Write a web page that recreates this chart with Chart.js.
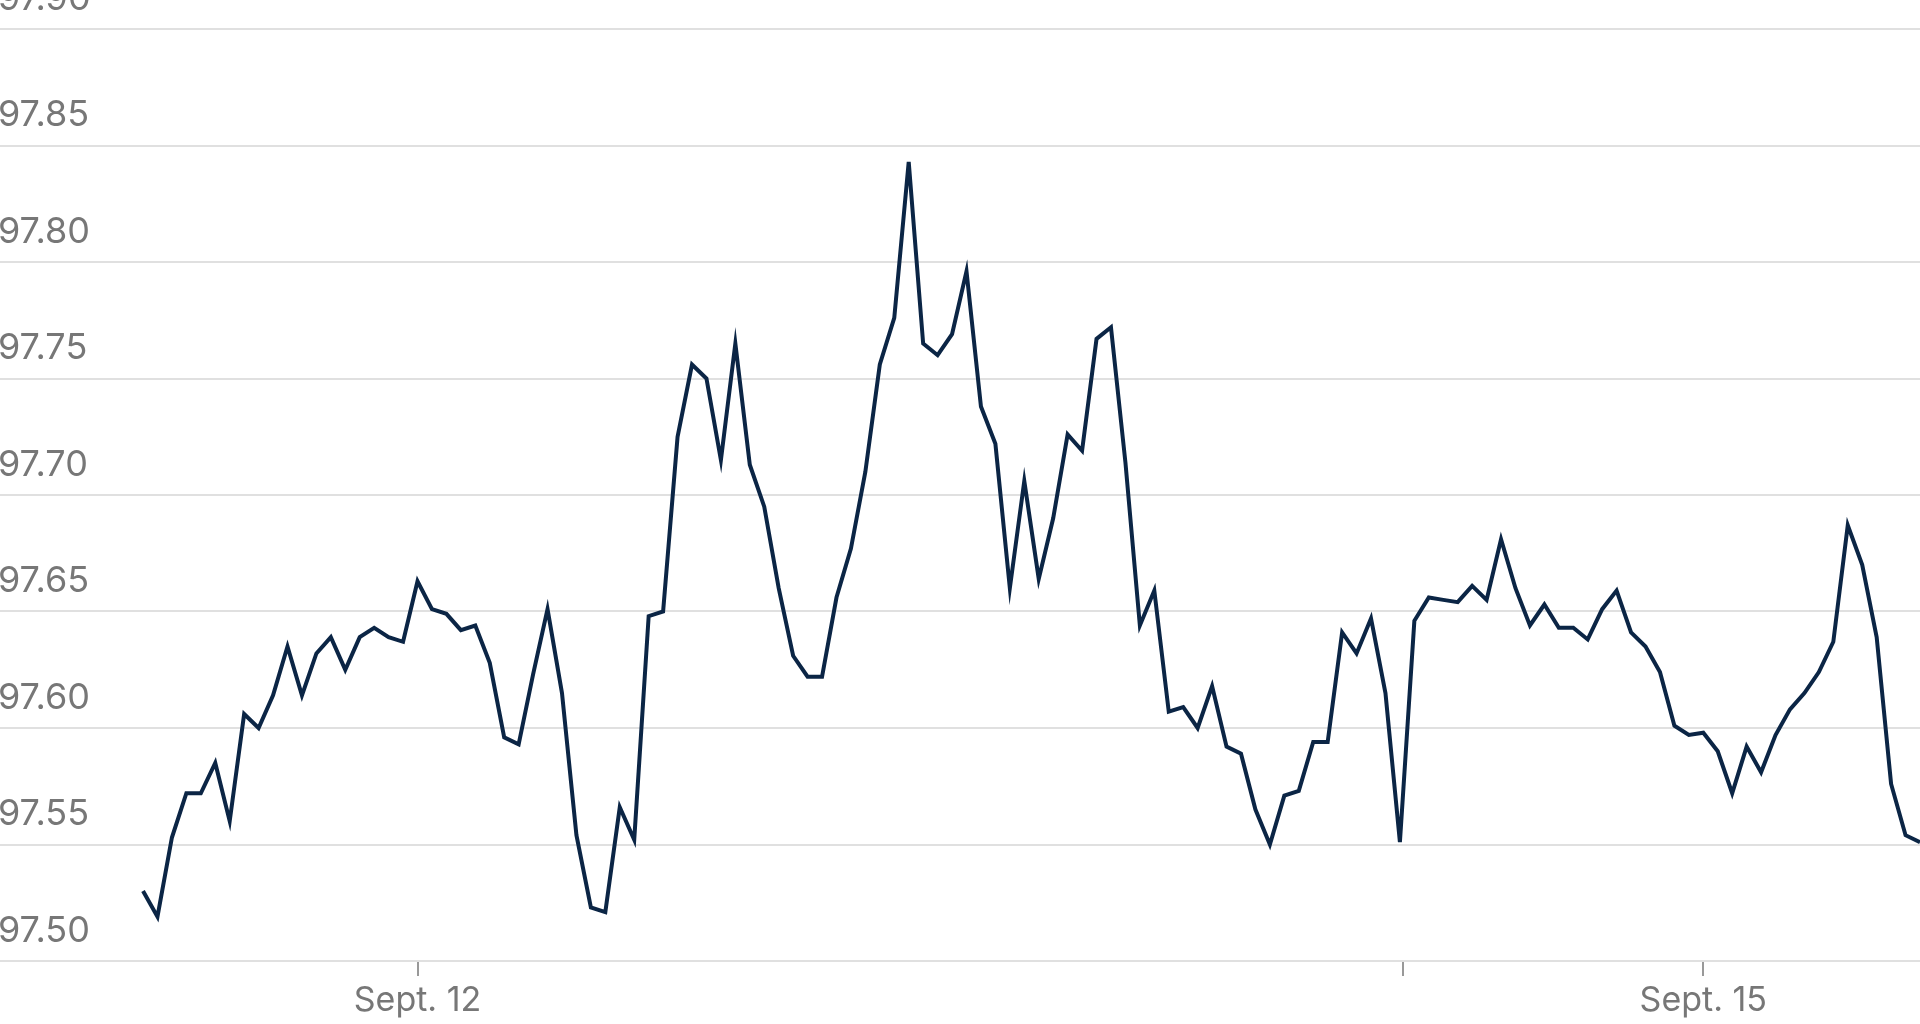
<!DOCTYPE html>
<html><head><meta charset="utf-8">
<script src="https://cdn.jsdelivr.net/npm/chart.js@4"></script>
<style>html,body{margin:0;padding:0;background:#fff;overflow:hidden}#w{width:1920px;height:1024px}</style>
</head><body><div id="w"><canvas id="c"></canvas></div>
<script>
const values=[97.530,97.519,97.553,97.572,97.572,97.585,97.560,97.606,97.600,97.614,97.635,97.614,97.632,97.639,97.625,97.639,97.643,97.639,97.637,97.663,97.651,97.649,97.642,97.644,97.628,97.596,97.593,97.623,97.651,97.615,97.554,97.523,97.521,97.566,97.552,97.648,97.650,97.725,97.756,97.750,97.715,97.765,97.713,97.695,97.660,97.631,97.622,97.622,97.656,97.677,97.710,97.756,97.776,97.843,97.765,97.760,97.769,97.796,97.738,97.722,97.660,97.706,97.664,97.690,97.726,97.719,97.767,97.772,97.714,97.644,97.659,97.607,97.609,97.600,97.618,97.592,97.589,97.565,97.550,97.571,97.573,97.594,97.594,97.641,97.632,97.647,97.615,97.551,97.646,97.656,97.655,97.654,97.661,97.655,97.681,97.660,97.644,97.653,97.643,97.643,97.638,97.651,97.659,97.641,97.635,97.624,97.601,97.597,97.598,97.590,97.572,97.592,97.581,97.597,97.608,97.615,97.624,97.637,97.687,97.670,97.639,97.576,97.554,97.551,97.576];
const xTickPositions=[19,87.2,108];
const xTickLabels=["Sept. 12","","Sept. 15"];
const yTicks=[97.50,97.55,97.60,97.65,97.70,97.75,97.80,97.85,97.90];
const pts=values.map((v,i)=>({x:i,y:v}));
new Chart(document.getElementById('c'),{type:'line',
data:{datasets:[{data:pts,borderColor:'#0b2545',borderWidth:4,pointRadius:0,tension:0,clip:false}]},
options:{responsive:true,maintainAspectRatio:false,animation:false,
layout:{padding:{top:29,left:0,right:0,bottom:0}},
plugins:{legend:{display:false},tooltip:{enabled:false}},
scales:{
x:{type:'linear',min:-9.9,max:123,border:{display:false},
 afterBuildTicks:a=>{a.ticks=xTickPositions.map(v=>({value:v}));},
 afterFit:a=>{a.height=63;},
 grid:{drawOnChartArea:false,drawTicks:true,tickLength:15,color:'#999',lineWidth:2},
 ticks:{autoSkip:false,maxRotation:0,padding:4,color:'#777',font:{family:'Inter',size:34},
  callback:(v)=>{const i=xTickPositions.indexOf(v);return i>=0?xTickLabels[i]:'';}}},
y:{min:97.5,max:97.9,border:{display:false},
 afterBuildTicks:a=>{a.ticks=yTicks.map(v=>({value:v}));},
 afterFit:a=>{a.width=0;},
 grid:{color:'#e0e0e0',lineWidth:2,drawTicks:false},
 ticks:{mirror:true,padding:-2,labelOffset:-30,color:'#777',font:{family:'Inter',size:36},
  callback:v=>v.toFixed(2)}}
}}});
</script></body></html>
